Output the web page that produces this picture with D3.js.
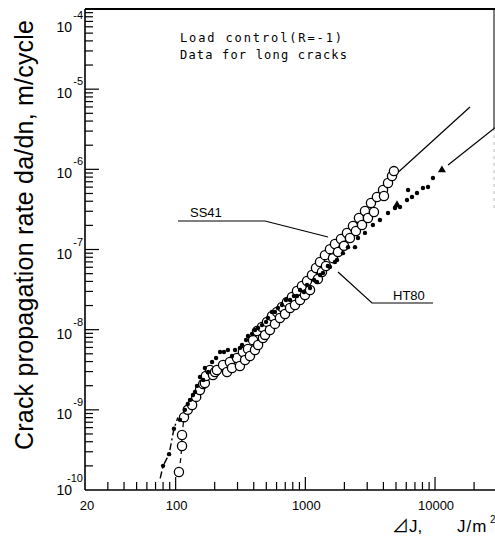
<!DOCTYPE html>
<html>
<head>
<meta charset="utf-8">
<script src="https://cdn.jsdelivr.net/npm/d3@7"></script>
<style>
body { margin: 0; background: #fff; }
svg { display: block; }
</style>
</head>
<body>
<div id="chart"></div>
<script>
// values: [ΔJ in J/m^2, da/dn in m/cycle]
const ss41 = [
  [106, 1.68e-10], [112, 3.54e-10], [112, 4.85e-10], [116, 8.1e-10], [124, 1.0e-9],
  [134, 1.15e-9], [144, 1.45e-9], [154, 1.77e-9], [163, 2.1e-9], [168, 2.16e-9], [171, 2.64e-9],
  [184, 3.14e-9], [194, 2.72e-9], [201, 2.96e-9], [208, 3.14e-9], [232, 3.63e-9], [249, 2.96e-9],
  [262, 3.95e-9], [272, 3.33e-9], [297, 4.44e-9], [313, 3.52e-9], [330, 5.27e-9], [343, 4.19e-9],
  [361, 5.74e-9], [374, 4.7e-9], [395, 7.4e-9], [409, 5.58e-9], [424, 9.6e-9], [432, 6.44e-9],
  [463, 1.08e-8], [471, 7.87e-9], [489, 8.6e-9], [506, 1.25e-8], [533, 9.9e-9], [553, 1.48e-8],
  [583, 1.18e-8], [604, 1.66e-8], [637, 1.4e-8], [661, 1.92e-8], [697, 1.57e-8], [722, 2.21e-8],
  [762, 1.86e-8], [789, 2.56e-8], [832, 2.03e-8], [862, 3.04e-8], [910, 2.34e-8], [942, 3.51e-8],
  [993, 2.71e-8], [1030, 4.05e-8], [1087, 3.13e-8], [1125, 4.81e-8], [1208, 5.88e-8], [1250, 4.29e-8],
  [1297, 6.98e-8], [1343, 5.25e-8], [1416, 8.5e-8], [1442, 6.22e-8], [1548, 1.01e-7], [1633, 7.8e-8],
  [1692, 1.17e-7], [1786, 9.3e-8], [1883, 1.35e-7], [1986, 1.11e-7], [2094, 1.61e-7], [2208, 1.39e-7],
  [2329, 1.96e-7], [2455, 1.7e-7], [2590, 2.47e-7], [2735, 2.02e-7], [2882, 3.02e-7], [3040, 2.47e-7],
  [3206, 3.8e-7], [3381, 2.94e-7], [3565, 4.52e-7], [3970, 5.52e-7], [4040, 4.65e-7],
  [4340, 6.76e-7], [4660, 8.26e-7], [4820, 9.5e-7]
];
const ht80 = [
  [80, 2.0e-10], [89, 2.8e-10], [97, 5.8e-10], [108, 7.5e-10], [118, 1.0e-9], [124, 1.18e-9],
  [129, 1.33e-9], [136, 1.53e-9], [141, 1.67e-9], [146, 1.99e-9], [154, 2.57e-9], [163, 2.36e-9],
  [168, 3.33e-9], [178, 2.96e-9], [191, 3.95e-9], [205, 4.44e-9], [220, 5.27e-9], [236, 5.27e-9],
  [253, 5.58e-9], [272, 4.7e-9], [287, 5.58e-9], [313, 5.92e-9], [325, 6.44e-9], [349, 7.43e-9],
  [361, 8.34e-9], [388, 8.83e-9], [409, 9.9e-9], [432, 1.05e-8], [463, 1.14e-8], [498, 1.25e-8],
  [515, 1.4e-8], [553, 1.66e-8], [583, 1.66e-8], [615, 1.86e-8], [661, 2.03e-8], [709, 2.34e-8],
  [762, 2.34e-8], [817, 2.63e-8], [862, 2.63e-8], [910, 3.13e-8], [977, 2.95e-8], [1030, 3.61e-8],
  [1087, 3.31e-8], [1167, 4.17e-8], [1230, 3.94e-8], [1297, 4.81e-8], [1368, 5.09e-8], [1493, 6.22e-8],
  [1548, 6.05e-8], [1692, 6.98e-8], [1754, 7.4e-8], [1950, 9.0e-8],
  [2132, 1.07e-7], [2415, 1.07e-7], [2547, 1.39e-7], [2882, 1.61e-7], [3319, 2.02e-7],
  [3758, 2.33e-7], [4340, 2.85e-7], [4911, 3.29e-7], [5370, 3.39e-7], [6080, 4.15e-7],
  [6194, 5.52e-7], [6640, 4.52e-7], [7260, 5.07e-7], [8070, 5.85e-7], [8830, 6.03e-7],
  [9640, 7.8e-7]
];
const ht80Tri = [[5090, 3.59e-7], [11300, 9.8e-7]];
const ss41Fit = [[3800, 5.8e-7], [18600, 6.0e-6]];
const ht80Fit = [[12600, 1.13e-6], [29000, 3.3e-6]];
const ss41Low = [[106, 1.68e-10], [110, 2.6e-10], [112, 4.85e-10], [116, 8.1e-10]];
const ht80Low = [[76, 1.4e-10], [80, 2.0e-10], [89, 2.8e-10], [97, 5.8e-10], [104, 8.0e-10]];
const xTickLabels = [20, 100, 1000, 10000];
const yTickPowers = [-4, -5, -6, -7, -8, -9, -10];
const notes = ["Load control(R=-1)", "Data for long cracks"];
const seriesNames = ["SS41", "HT80"];

const width = 495, height = 541;
const x = d3.scaleLog().domain([20, 29000]).range([85, 495]);
const y = d3.scaleLog().domain([1e-10, 1e-4]).range([490, 9]);

const svg = d3.select("#chart").append("svg")
  .attr("width", width).attr("height", height)
  .attr("viewBox", [0, 0, width, height]);

svg.append("defs").append("clipPath").attr("id", "plot")
  .append("rect").attr("x", 85).attr("y", 9).attr("width", 410).attr("height", 481);

const isPow = (v) => Math.abs(Math.log10(v) - Math.round(Math.log10(v))) < 1e-6;

// frame
const frame = svg.append("g").attr("stroke", "#000").attr("fill", "none");
frame.append("line").attr("x1", 85).attr("x2", 85).attr("y1", 9).attr("y2", 490).attr("stroke-width", 1.6);
frame.append("line").attr("x1", 85).attr("x2", 495).attr("y1", 490).attr("y2", 490).attr("stroke-width", 1.6);
frame.append("line").attr("x1", 85).attr("x2", 495).attr("y1", 9).attr("y2", 9).attr("stroke-width", 2);
frame.append("line").attr("x1", 494).attr("x2", 494).attr("y1", 9).attr("y2", 128).attr("stroke-width", 1);
frame.append("line").attr("x1", 494).attr("x2", 494).attr("y1", 128).attr("y2", 210)
  .attr("stroke", "#bbb").attr("stroke-dasharray", "3,4");

// ticks, pointing into the plot
const xt = x.ticks().filter((v) => v > 20 && v < 29000);
svg.append("g").selectAll("line").data(xt).join("line")
  .attr("x1", (d) => x(d)).attr("x2", (d) => x(d))
  .attr("y1", 490).attr("y2", (d) => 490 - (isPow(d) ? 13 : 8))
  .attr("stroke", "#000").attr("stroke-width", 1.2);

const yt = y.ticks().filter((v) => v > 1e-10 * 1.001 && v < 1e-4 * 0.999);
svg.append("g").selectAll("line").data(yt).join("line")
  .attr("x1", 85).attr("x2", (d) => 85 + (isPow(d) ? 14 : 8))
  .attr("y1", (d) => y(d)).attr("y2", (d) => y(d))
  .attr("stroke", "#000").attr("stroke-width", 1.2);

// tick labels
svg.append("g").selectAll("text").data(xTickLabels).join("text")
  .attr("x", (d) => x(d) + (d === 20 ? 2 : 1)).attr("y", 510)
  .attr("text-anchor", "middle")
  .attr("font-family", "Liberation Sans, Arial, sans-serif").attr("font-size", 13)
  .text((d) => d);

const yl = svg.append("g").attr("font-family", "Liberation Sans, Arial, sans-serif");
yTickPowers.forEach((p) => {
  const ty = y(Math.pow(10, p)) + (p === -4 ? 14 : p === -10 ? -4 : 0);
  yl.append("text").attr("x", 72).attr("y", ty + 9).attr("text-anchor", "end")
    .attr("font-size", 14).text("10");
  yl.append("text").attr("x", 83).attr("y", ty - 4).attr("text-anchor", "end")
    .attr("font-size", 11).text("-" + Math.abs(p));
});

// axis titles
svg.append("text")
  .attr("transform", "translate(33,235) rotate(-90)")
  .attr("text-anchor", "middle")
  .attr("font-family", "Liberation Sans, Arial, sans-serif").attr("font-size", 25)
  .attr("textLength", 430).attr("lengthAdjust", "spacing")
  .text("Crack propagation rate da/dn, m/cycle");

const xl = svg.append("g").attr("font-family", "Liberation Sans, Noto Sans CJK JP, sans-serif").attr("font-size", 17);
xl.append("text").attr("x", 392).attr("y", 532).text("⊿J,");
xl.append("text").attr("x", 457).attr("y", 532).attr("letter-spacing", 1).text("J/m");
xl.append("text").attr("x", 490).attr("y", 523).attr("font-size", 10).text("2");

// notes
svg.append("g").selectAll("text").data(notes).join("text")
  .attr("x", 180).attr("y", (d, i) => 42 + i * 17)
  .attr("font-family", "DejaVu Sans Mono, monospace").attr("font-size", 12)
  .attr("textLength", (d, i) => (i === 0 ? 162 : 167)).attr("lengthAdjust", "spacing")
  .text((d) => d);

// fitted lines and low-range dashed curves
const line = d3.line().x((d) => x(d[0])).y((d) => y(d[1]));
const plot = svg.append("g").attr("clip-path", "url(#plot)");
plot.append("path").datum(ss41Fit).attr("d", line).attr("fill", "none").attr("stroke", "#000").attr("stroke-width", 1.2);
plot.append("path").datum(ht80Fit).attr("d", line).attr("fill", "none").attr("stroke", "#000").attr("stroke-width", 1.2);
plot.append("path").datum(ss41Low).attr("d", line).attr("fill", "none").attr("stroke", "#000")
  .attr("stroke-width", 1.2).attr("stroke-dasharray", "5,4");
plot.append("path").datum(ht80Low).attr("d", line).attr("fill", "none").attr("stroke", "#000")
  .attr("stroke-width", 1.4).attr("stroke-dasharray", "7,3,2,3");

// markers
plot.append("g").selectAll("circle").data(ss41).join("circle")
  .attr("cx", (d) => x(d[0])).attr("cy", (d) => y(d[1])).attr("r", 4.6)
  .attr("fill", "#fff").attr("stroke", "#000").attr("stroke-width", 1.3);
plot.append("g").selectAll("circle").data(ht80).join("circle")
  .attr("cx", (d) => x(d[0])).attr("cy", (d) => y(d[1])).attr("r", 2.2)
  .attr("fill", "#000");
plot.append("g").selectAll("path").data(ht80Tri).join("path")
  .attr("transform", (d) => `translate(${x(d[0])},${y(d[1])})`)
  .attr("d", d3.symbol(d3.symbolTriangle, 28)).attr("fill", "#000");

// series labels with leader lines
const lab = svg.append("g").attr("font-family", "Liberation Sans, Arial, sans-serif").attr("font-size", 13);
lab.append("text").attr("x", 190).attr("y", 217).text(seriesNames[0]);
lab.append("text").attr("x", 393).attr("y", 300).text(seriesNames[1]);
svg.append("path").attr("d", d3.line()([[178, 221], [265, 221], [328, 237]]))
  .attr("fill", "none").attr("stroke", "#000").attr("stroke-width", 1.2);
svg.append("path").attr("d", d3.line()([[338, 272], [372, 303], [433, 303]]))
  .attr("fill", "none").attr("stroke", "#000").attr("stroke-width", 1.2);
</script>
</body>
</html>
